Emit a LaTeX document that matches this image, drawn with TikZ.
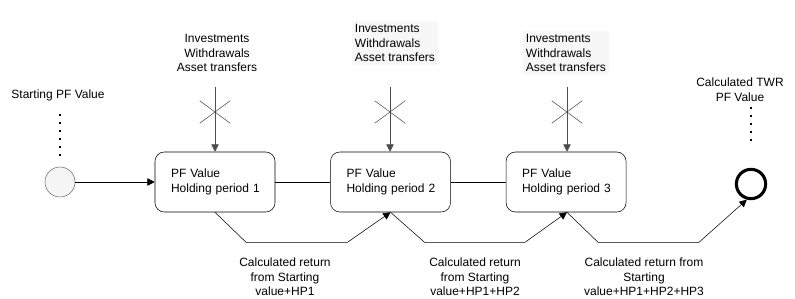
\documentclass[tikz,border=0pt]{standalone}
\usepackage{fontspec}
\setmainfont{Liberation Sans}
\usetikzlibrary{positioning,shapes.misc,arrows.meta,calc}

\begin{document}
\begin{tikzpicture}[
  x=0.75pt, y=-0.75pt,
  font=\fontsize{9}{11}\selectfont,
  node distance=41.25pt,
  period/.style={draw, rounded corners=7pt, align=left, text width=72pt, inner xsep=9pt, minimum height=45pt},
  startpt/.style={circle, draw=black!60, fill=black!4, minimum size=22.5pt, inner sep=0pt},
  endpt/.style={circle, draw, line width=2.3pt, minimum size=22pt, inner sep=0pt},
  flows/.style={align=left, fill=black!3, inner sep=2pt},
  note/.style={align=center, inner sep=1pt},
  blocked/.style={cross out, draw=black!70, thin, minimum width=22.5pt, minimum height=16.5pt, inner sep=0pt},
  arrow/.style={-{Triangle[length=5.5pt, width=5.5pt]}},
  feed/.style={arrow, draw=black!70},
  dots/.style={line width=1.1pt, dash pattern=on 1.1pt off 4.9pt}
]
\useasboundingbox (0,0) rectangle (795,299);

\node[startpt] (start) at (60,182) {};
\node[note] (startlbl) at (58,95) {Starting PF Value};

\node[period] (hp1) at (215,182) {\hspace*{3pt}PF Value\\\hspace*{3pt}Holding period 1};
\node[period, right=of hp1] (hp2) {\hspace*{3pt}PF Value\\\hspace*{3pt}Holding period 2};
\node[period, right=of hp2] (hp3) {\hspace*{3pt}PF Value\\\hspace*{3pt}Holding period 3};

\node[endpt] (twr) at (751,184) {};
\node[note] (twrlbl) at (740,90) {Calculated TWR\\PF Value};

% cash flows into each period
\node[note] (flow1) at (217,53) {Investments\\Withdrawals\\Asset transfers};
\node[flows, anchor=west] (flow2) at (352,43) {Investments\\Withdrawals\\Asset transfers};
\node[flows, anchor=west] (flow3) at (523,53) {Investments\\Withdrawals\\Asset transfers};

\coordinate (in1) at (215,87);
\coordinate (in2) at (390,87);
\coordinate (in3) at (567,87);

\draw[feed] (in1) -- (hp1.north -| in1);
\draw[feed] (in2) -- (hp2.north -| in2);
\draw[feed] (in3) -- (hp3.north -| in3);

\node[blocked] (x1) at (215,112) {};
\node[blocked] (x2) at (390,112) {};
\node[blocked] (x3) at (567,112) {};

% returns
\node[note] (ret1) at (285,277) {Calculated return\\from Starting\\value+HP1};
\node[note] (ret2) at (475,277) {Calculated return\\from Starting\\value+HP1+HP2};
\node[note] (ret3) at (644,277) {Calculated return from\\Starting\\value+HP1+HP2+HP3};

\draw[dots, shorten <=9pt, shorten >=4.5pt] (startlbl.south -| start) -- (start.north);
\draw[dots, shorten <=3pt, shorten >=16pt] (twrlbl.south -| twr) -- (twr.north);

\draw[arrow] (start) -- (hp1);
\draw (hp1) -- (hp2);
\draw (hp2) -- (hp3);

\draw[arrow] (hp1.south) -- ++(31,30) -- ($(hp2.south)+(-43,30)$) -- (hp2.south);
\draw[arrow] (hp2.south) -- ++(34,30) -- ($(hp3.south)+(-41,30)$) -- (hp3.south -| in3);
\draw[arrow] (hp3.south -| in3) -- ++(31,30) -- ++(101,0) -- (twr.-105);
\end{tikzpicture}
\end{document}
